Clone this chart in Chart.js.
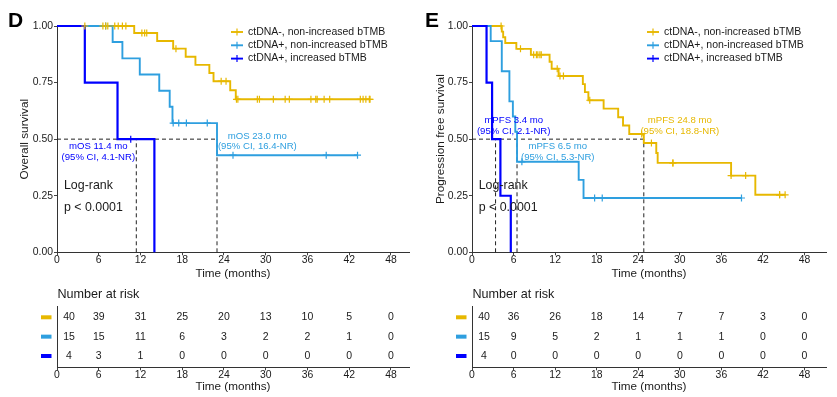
<!DOCTYPE html>
<html>
<head>
<meta charset="utf-8">
<script src="https://cdn.jsdelivr.net/npm/chart.js@4.4.1/dist/chart.umd.min.js"></script>
<style>
  html, body { margin: 0; padding: 0; background: #fff; }
  #wrap { position: relative; width: 837px; height: 397px; overflow: hidden; }
  canvas { position: absolute; }
</style>
</head>
<body>
<div id="wrap">
  <canvas id="os-plot" width="418" height="280" style="left:0px;top:0px"></canvas>
  <canvas id="os-risk" width="418" height="117" style="left:0px;top:280px"></canvas>
  <canvas id="pfs-plot" width="420" height="280" style="left:417px;top:0px"></canvas>
  <canvas id="pfs-risk" width="420" height="117" style="left:417px;top:280px"></canvas>
</div>
<script>
const FONT = "'Liberation Sans', Arial, Helvetica, sans-serif";

// Groups
const groupNames = ['ctDNA-, non-increased bTMB', 'ctDNA+, non-increased bTMB', 'ctDNA+, increased bTMB'];
const groupColors = ['#E7B800', '#2E9FDF', '#0000FF'];

// Axis ticks
const timeTicks = [0, 6, 12, 18, 24, 30, 36, 42, 48];
const survTicks = [0, 0.25, 0.5, 0.75, 1];

// Overall survival - event times (months) and survival after each event
const osNegEventT = [11.1, 14.4, 16.7, 18.5, 19.9, 21.9, 22.5, 24.9, 25.7];
const osNegEventS = [0.969, 0.934, 0.900, 0.864, 0.828, 0.792, 0.756, 0.716, 0.676];
const osNegCensorT = [4.0, 6.6, 7.0, 7.3, 8.3, 8.8, 9.4, 9.9, 12.2, 12.6, 12.9, 17.1, 23.6, 24.3,
  25.8, 26.0, 28.8, 29.1, 31.1, 32.8, 33.4, 36.5, 37.2, 37.4, 38.4, 39.2, 43.6, 44.0, 44.4, 44.9, 45.0];
const osPosEventT = [8.0, 9.4, 11.9, 14.7, 16.2, 16.6, 23.0];
const osPosEventS = [0.929, 0.857, 0.786, 0.714, 0.643, 0.571, 0.429];
const osPosCensorT = [7.0, 16.7, 17.5, 18.6, 21.6, 25.3, 38.7, 43.2];
const osIncEventT = [4.0, 8.7, 14.0];
const osIncEventS = [0.75, 0.5, 0];
const osIncCensorT = [10.6];

// Progression free survival
const pfsNegEventT = [4.3, 4.5, 4.8, 6.4, 8.5, 11.2, 11.5, 12.5, 16.0, 16.3, 16.8, 19.0, 21.1, 21.8,
  22.7, 24.8, 26.6, 26.8, 37.4, 40.9];
const pfsNegEventS = [0.975, 0.95, 0.925, 0.899, 0.873, 0.842, 0.811, 0.779, 0.743, 0.708, 0.672,
  0.635, 0.597, 0.560, 0.523, 0.483, 0.439, 0.395, 0.339, 0.254];
const pfsNegCensorT = [4.2, 7.0, 8.9, 9.3, 9.5, 9.8, 10.0, 12.3, 12.7, 13.2, 17.0, 24.5, 25.9, 29.0,
  29.0, 37.4, 39.5, 44.4, 44.4, 45.2];
const pfsPosEventT = [2.7, 4.3, 5.4, 5.9, 6.25, 6.5, 15.4, 16.1];
const pfsPosEventS = [0.933, 0.8, 0.667, 0.6, 0.533, 0.4, 0.32, 0.24];
const pfsPosCensorT = [7.2, 17.7, 18.8, 38.9];
const pfsIncEventT = [2.1, 2.9, 4.1, 5.6];
const pfsIncEventS = [0.75, 0.5, 0.25, 0];
const pfsIncCensorT = [];

// Medians
const osMedians = [11.4, 23.0];
const pfsMedians = [3.4, 6.5, 24.8];

// Number at risk
const osRiskNeg = [40, 39, 31, 25, 20, 13, 10, 5, 0];
const osRiskPos = [15, 15, 11, 6, 3, 2, 2, 1, 0];
const osRiskInc = [4, 3, 1, 0, 0, 0, 0, 0, 0];
const pfsRiskNeg = [40, 36, 26, 18, 14, 7, 7, 3, 0];
const pfsRiskPos = [15, 9, 5, 2, 1, 1, 1, 0, 0];
const pfsRiskInc = [4, 0, 0, 0, 0, 0, 0, 0, 0];

// Survival value of a step curve at time t
function stepValue(eventT, eventS, t) {
  let s = 1;
  eventT.forEach((et, i) => { if (et <= t) s = eventS[i]; });
  return s;
}

function curvePoints(eventT, eventS, censorT) {
  const pts = [{ x: 0, y: 1 }];
  eventT.forEach((t, i) => pts.push({ x: t, y: eventS[i] }));
  const lastT = eventT[eventT.length - 1];
  const end = Math.max(lastT, ...censorT);
  if (end > lastT) pts.push({ x: end, y: eventS[eventS.length - 1] });
  return pts;
}

const kmExtras = {
  id: 'kmExtras',
  afterDatasetsDraw(chart, args, opts) {
    const { ctx, scales: { x, y } } = chart;
    ctx.save();
    // panel letter
    ctx.fillStyle = '#000';
    ctx.font = `bold 21px ${FONT}`;
    ctx.textAlign = 'left';
    ctx.textBaseline = 'alphabetic';
    ctx.fillText(opts.letter, 8, 27);

    // median annotations
    ctx.font = `9.6px ${FONT}`;
    ctx.textAlign = 'center';
    ctx.textBaseline = 'middle';
    opts.notes.forEach(n => {
      ctx.fillStyle = groupColors[n.group];
      n.lines.forEach((line, k) => {
        ctx.fillText(line, x.getPixelForValue(n.x), y.getPixelForValue(n.y) + k * 10.6);
      });
    });

    // log-rank
    ctx.fillStyle = '#1a1a1a';
    ctx.font = `12.4px ${FONT}`;
    ctx.textAlign = 'left';
    ctx.fillText('Log-rank', x.getPixelForValue(opts.logRankX), y.getPixelForValue(0.297));
    ctx.fillText('p < 0.0001', x.getPixelForValue(opts.logRankX), y.getPixelForValue(0.196));

    // legend
    ctx.font = `10.5px ${FONT}`;
    groupNames.forEach((name, i) => {
      const ly = 32 + i * 13.3;
      const lx = opts.legendX;
      ctx.strokeStyle = groupColors[i];
      ctx.lineWidth = 1.9;
      ctx.beginPath();
      ctx.moveTo(lx, ly);
      ctx.lineTo(lx + 12, ly);
      ctx.stroke();
      ctx.lineWidth = 1.2;
      ctx.beginPath();
      ctx.moveTo(lx + 6, ly - 3.5);
      ctx.lineTo(lx + 6, ly + 3.5);
      ctx.stroke();
      ctx.fillStyle = '#1a1a1a';
      ctx.fillText(name, lx + 17, ly);
    });
    ctx.restore();
  }
};

const riskExtras = {
  id: 'riskExtras',
  afterDatasetsDraw(chart, args, opts) {
    const { ctx, chartArea } = chart;
    ctx.save();
    ctx.textBaseline = 'middle';
    chart.data.datasets.forEach((ds, i) => {
      const meta = chart.getDatasetMeta(i);
      ctx.font = `10.5px ${FONT}`;
      ctx.textAlign = 'center';
      ctx.fillStyle = '#1a1a1a';
      meta.data.forEach((pt, j) => {
        const nudge = j === 0 ? 12 : 0;
        ctx.fillText(String(opts.rows[i][j]), pt.x + nudge, pt.y);
      });
      ctx.fillStyle = groupColors[i];
      ctx.fillRect(chartArea.left - 16, meta.data[0].y - 2, 10.5, 4);
    });
    ctx.fillStyle = '#1a1a1a';
    ctx.font = `12.6px ${FONT}`;
    ctx.textAlign = 'left';
    ctx.fillText('Number at risk', chartArea.left + 0.5, 15);
    ctx.restore();
  }
};

function xScale(cfg, height, titlePadBottom) {
  return {
    type: 'linear',
    min: 0,
    max: cfg.xMax,
    afterBuildTicks: s => { s.ticks = timeTicks.map(v => ({ value: v })); },
    afterFit: s => { s.height = height; },
    grid: { display: true, drawOnChartArea: false, drawTicks: true, tickLength: 3, color: '#444', lineWidth: 1 },
    border: { display: true, color: '#333', width: 1 },
    ticks: { color: '#1a1a1a', font: { family: FONT, size: 10.4, lineHeight: 1 }, padding: 0, maxRotation: 0, autoSkip: false },
    title: { display: true, text: 'Time (months)', color: '#1a1a1a', font: { family: FONT, size: 11.7, lineHeight: 1 }, padding: { top: 0, bottom: titlePadBottom } }
  };
}

function kmChart(canvasId, cfg) {
  const datasets = [];
  // censor marks
  cfg.groups.forEach((g, i) => {
    datasets.push({
      data: g.censorT.map(t => ({ x: t, y: stepValue(g.eventT, g.eventS, t) })),
      pointStyle: 'cross',
      pointRadius: 3.5,
      pointBorderWidth: 1.2,
      borderColor: groupColors[i],
      backgroundColor: groupColors[i],
      showLine: false,
      clip: false,
      order: 0
    });
  });
  // survival curves
  cfg.groups.forEach((g, i) => {
    datasets.push({
      data: curvePoints(g.eventT, g.eventS, g.censorT),
      showLine: true,
      stepped: true,
      borderColor: groupColors[i],
      borderWidth: i === 2 ? 2.2 : 1.9,
      pointRadius: 0,
      clip: false,
      order: 3 - i
    });
  });
  // median reference lines
  const dashed = { showLine: true, borderColor: '#222', borderWidth: 1, borderDash: [4, 3], pointRadius: 0, clip: false, order: 10 };
  datasets.push(Object.assign({ data: [{ x: 0, y: 0.5 }, { x: Math.max(...cfg.medians), y: 0.5 }] }, dashed));
  cfg.medians.forEach(m => {
    datasets.push(Object.assign({ data: [{ x: m, y: 0 }, { x: m, y: 0.5 }] }, dashed));
  });

  return new Chart(document.getElementById(canvasId), {
    type: 'scatter',
    data: { datasets },
    options: {
      responsive: false,
      animation: false,
      events: [],
      layout: { padding: { left: 0, top: 26, right: cfg.padRight, bottom: 0 } },
      plugins: {
        legend: { display: false },
        tooltip: { enabled: false },
        kmExtras: { letter: cfg.letter, notes: cfg.notes, legendX: cfg.legendX, logRankX: cfg.logRankX }
      },
      scales: {
        x: xScale(cfg, 27.7, 0),
        y: {
          type: 'linear',
          min: 0,
          max: 1,
          afterBuildTicks: s => { s.ticks = survTicks.map(v => ({ value: v })); },
          afterFit: s => { s.width = cfg.axisLeft; },
          grid: { display: true, drawOnChartArea: false, drawTicks: true, tickLength: 3, color: '#444', lineWidth: 1 },
          border: { display: true, color: '#333', width: 1 },
          ticks: { color: '#1a1a1a', font: { family: FONT, size: 10.4, lineHeight: 1 }, padding: 1, callback: v => Number(v).toFixed(2) },
          title: { display: true, text: cfg.yTitle, color: '#1a1a1a', font: { family: FONT, size: 11.8, lineHeight: 1 }, padding: { top: cfg.yTitlePad, bottom: 0 } }
        }
      }
    },
    plugins: [kmExtras]
  });
}

function riskChart(canvasId, cfg) {
  const datasets = cfg.rows.map((vals, i) => ({
    data: vals.map((v, j) => ({ x: timeTicks[j], y: i })),
    pointRadius: 0,
    showLine: false
  }));
  return new Chart(document.getElementById(canvasId), {
    type: 'scatter',
    data: { datasets },
    options: {
      responsive: false,
      animation: false,
      events: [],
      layout: { padding: { left: 0, top: 26, right: cfg.padRight, bottom: 0 } },
      plugins: {
        legend: { display: false },
        tooltip: { enabled: false },
        riskExtras: { rows: cfg.rows }
      },
      scales: {
        x: xScale(cfg, 29.7, 4.5),
        y: {
          type: 'linear',
          min: -0.584,
          max: 2.584,
          reverse: true,
          afterFit: s => { s.width = cfg.axisLeft; },
          grid: { display: false },
          border: { display: true, color: '#333', width: 1 },
          ticks: { display: false }
        }
      }
    },
    plugins: [riskExtras]
  });
}

// Panel D: overall survival
kmChart('os-plot', {
  letter: 'D',
  axisLeft: 57,
  padRight: 9,
  xMax: 50.6,
  yTitle: 'Overall survival',
  yTitlePad: 19.2,
  legendX: 231,
  logRankX: 1.0,
  medians: osMedians,
  groups: [
    { eventT: osNegEventT, eventS: osNegEventS, censorT: osNegCensorT },
    { eventT: osPosEventT, eventS: osPosEventS, censorT: osPosCensorT },
    { eventT: osIncEventT, eventS: osIncEventS, censorT: osIncCensorT }
  ],
  notes: [
    { group: 2, x: 5.94, y: 0.467, lines: ['mOS 11.4 mo', '(95% CI, 4.1-NR)'] },
    { group: 1, x: 28.8, y: 0.514, lines: ['mOS 23.0 mo', '(95% CI, 16.4-NR)'] }
  ]
});

riskChart('os-risk', {
  axisLeft: 57,
  padRight: 9,
  xMax: 50.6,
  rows: [osRiskNeg, osRiskPos, osRiskInc]
});

// Panel E: progression free survival
kmChart('pfs-plot', {
  letter: 'E',
  axisLeft: 55,
  padRight: 11,
  xMax: 51.1,
  yTitle: 'Progression free survival',
  yTitlePad: 17.5,
  legendX: 230,
  logRankX: 0.97,
  medians: pfsMedians,
  groups: [
    { eventT: pfsNegEventT, eventS: pfsNegEventS, censorT: pfsNegCensorT },
    { eventT: pfsPosEventT, eventS: pfsPosEventS, censorT: pfsPosCensorT },
    { eventT: pfsIncEventT, eventS: pfsIncEventS, censorT: pfsIncCensorT }
  ],
  notes: [
    { group: 2, x: 6.02, y: 0.582, lines: ['mPFS 3.4 mo', '(95% CI, 2.1-NR)'] },
    { group: 1, x: 12.38, y: 0.467, lines: ['mPFS 6.5 mo', '(95% CI, 5.3-NR)'] },
    { group: 0, x: 30.0, y: 0.582, lines: ['mPFS 24.8 mo', '(95% CI, 18.8-NR)'] }
  ]
});

riskChart('pfs-risk', {
  axisLeft: 55,
  padRight: 11,
  xMax: 51.1,
  rows: [pfsRiskNeg, pfsRiskPos, pfsRiskInc]
});
</script>
</body>
</html>
